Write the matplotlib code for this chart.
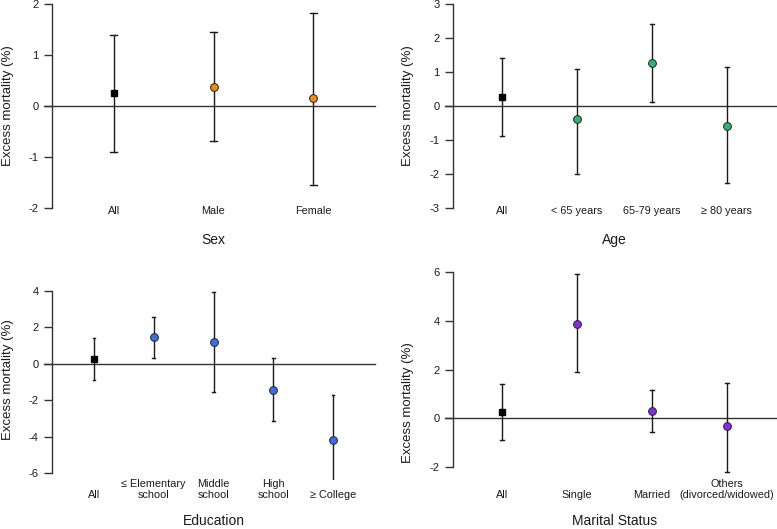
import matplotlib

matplotlib.use("Agg")
import matplotlib.pyplot as plt
import matplotlib.transforms as mtransforms


# point estimates and 95% CI
SEX_LABELS = ["All", "Male", "Female"]
SEX_EST = [0.26, 0.38, 0.15]
SEX_LO = [-0.90, -0.69, -1.55]
SEX_HI = [1.40, 1.45, 1.83]

AGE_LABELS = ["All", "< 65 years", "65-79 years", "\u2265 80 years"]
AGE_EST = [0.26, -0.39, 1.25, -0.59]
AGE_LO = [-0.89, -2.00, 0.12, -2.25]
AGE_HI = [1.40, 1.10, 2.41, 1.16]

EDU_LABELS = ["All", "\u2264 Elementary\nschool", "Middle\nschool", "High\nschool", "\u2265 College"]
EDU_EST = [0.26, 1.47, 1.19, -1.47, -4.17]
EDU_LO = [-0.90, 0.31, -1.56, -3.16, -6.44]
EDU_HI = [1.41, 2.57, 3.91, 0.33, -1.71]

MAR_LABELS = ["All", "Single", "Married", "Others\n(divorced/widowed)"]
MAR_EST = [0.27, 3.88, 0.30, -0.33]
MAR_LO = [-0.88, 1.88, -0.59, -2.22]
MAR_HI = [1.41, 5.92, 1.14, 1.44]

W, H = 777, 529


def px_axes(fig, left, right, top, bottom):
    return fig.add_axes([left / W, 1 - bottom / H, (right - left) / W, (bottom - top) / H])


def panel(fig, box, labels, est, lo, hi, color, yticks, title, label_y, title_y, ylab_x, ylab_y):
    left, right, top, bottom = box
    ax = px_axes(fig, left, right, top, bottom)
    n = len(labels)
    xs = list(range(1, n + 1))
    ymin, ymax = yticks[0], yticks[-1]
    pad = 0.04 * (ymax - ymin)
    ax.set_xlim(0.5 - 0.04 * n, n + 0.5 + 0.04 * n)
    ax.set_ylim(ymin - pad, ymax + pad)

    ax.axhline(0, xmin=-0.025, xmax=1, color="#333333", lw=1.0, clip_on=False, zorder=1)

    cap = 0.035 * (3 / n)
    for i, x in enumerate(xs):
        ax.plot([x, x], [lo[i], hi[i]], color="#1a1a1a", lw=1.0, zorder=2)
        for yy in (lo[i], hi[i]):
            ax.plot([x - cap, x + cap], [yy, yy], color="#1a1a1a", lw=1.0, zorder=2)
        if i == 0:
            ax.plot(x, est[i], marker="s", ms=5.0, color="black", zorder=3)
        else:
            ax.plot(x, est[i], marker="o", ms=5.6, markerfacecolor=color,
                    markeredgecolor="#222222", markeredgewidth=0.7, zorder=3)

    for s in ["top", "right", "bottom"]:
        ax.spines[s].set_visible(False)
    ax.spines["left"].set_bounds(ymin, ymax)
    ax.spines["left"].set_color("#333333")
    ax.spines["left"].set_linewidth(1.0)
    ax.set_yticks(yticks)
    ax.set_yticklabels([str(t) for t in yticks])
    ax.tick_params(axis="y", length=5.5, width=1.0, color="#333333", labelsize=8, pad=4,
                   labelcolor="#1a1a1a")
    ax.set_xticks([])
    ax.patch.set_alpha(0)

    trans = mtransforms.blended_transform_factory(ax.transData, fig.transFigure)
    for x, lab in zip(xs, labels):
        ax.text(x, 1 - label_y / H, lab, transform=trans, ha="center", va="bottom",
                fontsize=7.8, linespacing=1.15, color="#1a1a1a")

    fig.text((left + right) / 2 / W, 1 - title_y / H, title, ha="center", va="center",
             fontsize=10, color="#1a1a1a")
    fig.text(ylab_x / W, 1 - ylab_y / H, "Excess mortality (%)", rotation=90,
             ha="center", va="center", fontsize=9.5, color="#1a1a1a")
    return ax


def main():
    plt.rcParams.update({
        "font.family": ["Liberation Sans", "DejaVu Sans"],
        "axes.unicode_minus": False,
    })
    fig = plt.figure(figsize=(W / 100, H / 100), dpi=100)

    panel(fig, (52, 375, -4.2, 216.2), SEX_LABELS, SEX_EST, SEX_LO, SEX_HI, "#f28a0f",
          [-2, -1, 0, 1, 2], "Sex", 216, 240, 8, 106)
    panel(fig, (453, 776, -4.2, 216.2), AGE_LABELS, AGE_EST, AGE_LO, AGE_HI, "#2fb36e",
          [-3, -2, -1, 0, 1, 2, 3], "Age", 216, 240, 408, 106)
    panel(fig, (52, 375, 283.4, 480.3), EDU_LABELS, EDU_EST, EDU_LO, EDU_HI, "#3b6ee6",
          [-6, -4, -2, 0, 2, 4], "Education", 500, 521, 8, 380)
    panel(fig, (453, 776, 264.5, 474.5), MAR_LABELS, MAR_EST, MAR_LO, MAR_HI, "#8a2be2",
          [-2, 0, 2, 4, 6], "Marital Status", 500, 521, 408, 403)

    fig.savefig("out.png", dpi=100)
    plt.close(fig)


if __name__ == "__main__":
    main()
